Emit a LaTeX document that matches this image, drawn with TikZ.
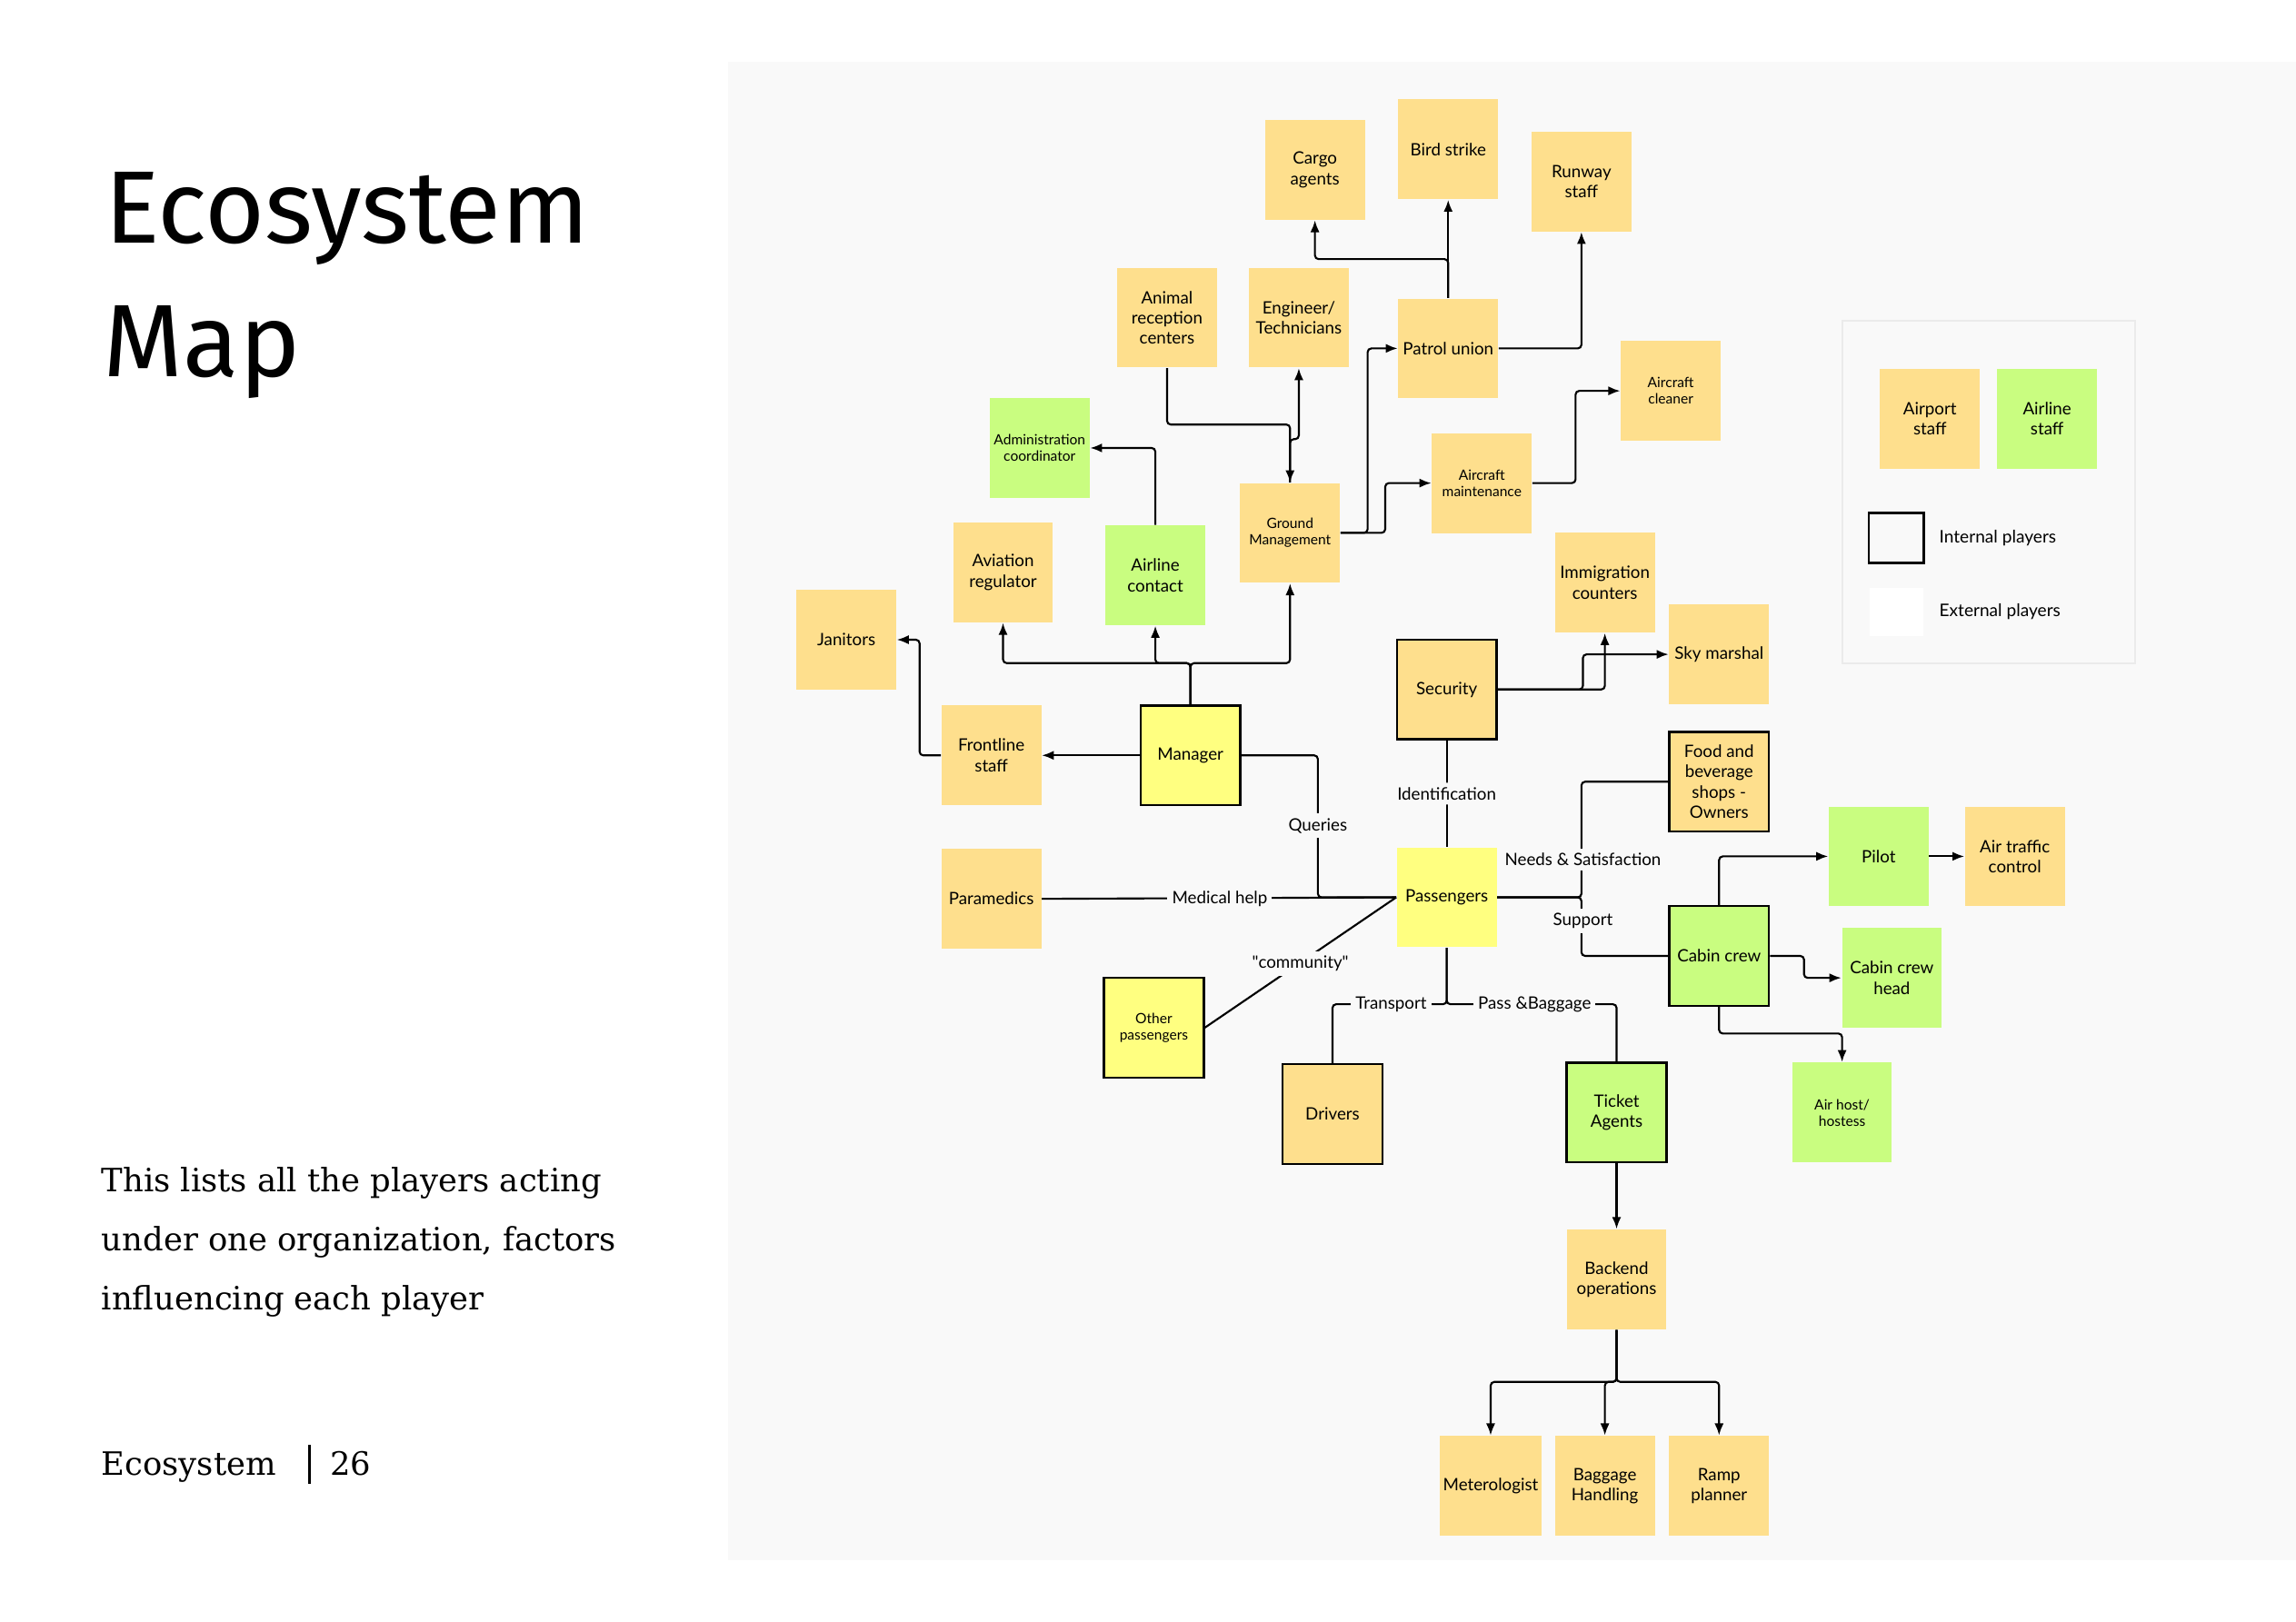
\documentclass[tikz,border=0pt]{standalone}
\usepackage{fontspec}
\setmainfont{Lato}
\newfontfamily\titlefont{Fira Sans}
\newfontfamily\bodyfont{DejaVu Serif}
\usetikzlibrary{arrows.meta,positioning}

\definecolor{airport}{HTML}{FEDF8D}
\definecolor{airline}{HTML}{C9FD80}
\definecolor{pax}{HTML}{FFFF80}
\definecolor{panel}{HTML}{F9F9F9}
\definecolor{keyline}{HTML}{EBEBEB}

\begin{document}
\begin{tikzpicture}[
  x=0.16mm, y=-0.16mm,
  note/.style={minimum width=10.9mm,minimum height=10.9mm,inner sep=0.4mm,align=center,
    font=\fontsize{5.3}{6.3}\selectfont},
  small/.style={font=\fontsize{4.4}{5.1}\selectfont},
  apt/.style={note,fill=airport},
  aln/.style={note,fill=airline},
  psg/.style={note,fill=pax},
  internal/.style={draw,line width=0.7pt},
  conn/.style={line width=0.6pt,rounded corners=0.4mm},
  arr/.style={conn,-{Latex[length=1.3mm,width=1mm]}},
  lbl/.style={fill=panel,inner sep=0.5mm,font=\fontsize{5.3}{6.3}\selectfont},
  keytext/.style={anchor=west,inner sep=0,font=\fontsize{5.4}{6.4}\selectfont}
]
\useasboundingbox (0,0) rectangle (1568,1108);
\fill[white] (0,0) rectangle (1568,1108);
\fill[panel] (497,42) rectangle (1568,1066);

% left column
\node[anchor=base west,inner sep=0,font=\titlefont\fontsize{32}{41}\selectfont] (title) at (71,166) {Ecosystem};
\node[anchor=base west,inner sep=0,font=\titlefont\fontsize{32}{41}\selectfont] (titlemap) at (70,257) {Map};
\node[anchor=base west,inner sep=0,font=\bodyfont\fontsize{10}{18.4}\selectfont] (blurb) at (69,814)
  {This lists all the players acting};
\node[anchor=base west,inner sep=0,font=\bodyfont\fontsize{10}{18.4}\selectfont] (blurbb) at (69,854.5)
  {under one organization, factors};
\node[anchor=base west,inner sep=0,font=\bodyfont\fontsize{10}{18.4}\selectfont] (blurbc) at (69,895)
  {influencing each player};
\node[anchor=base west,inner sep=0,font=\bodyfont\fontsize{10}{18.4}\selectfont] (footer) at (69,1008) {Ecosystem};
\node[anchor=base west,inner sep=0,font=\bodyfont\fontsize{10}{18.4}\selectfont] (pageno) at (225,1008) {26};
\draw[line width=0.7pt] (211.5,987) -- (211.5,1013.5);

% players
\node[apt] (cargo) at (898,116) {Cargo\\agents};
\node[apt] (bird) at (989,102) {Bird strike};
\node[apt] (runway) at (1080,124) {Runway\\staff};
\node[apt] (animal) at (797,217) {Animal\\reception\\centers};
\node[apt] (engineer) at (887,217) {Engineer/\\Technicians};
\node[apt] (patrol) at (989,238) {Patrol union};
\node[apt,small] (cleaner) at (1141,267) {Aircraft\\cleaner};
\node[aln,small] (admin) at (710,306) {Administration\\coordinator};
\node[apt,small] (maint) at (1012,330) {Aircraft\\maintenance};
\node[apt,small] (ground) at (881,364) {Ground\\Management};
\node[apt] (aviation) at (685,391) {Aviation\\regulator};
\node[aln] (contact) at (789,393) {Airline\\contact};
\node[apt] (immig) at (1096,398) {Immigration\\counters};
\node[apt] (janitors) at (578,437) {Janitors};
\node[apt] (sky) at (1174,447) {Sky marshal};
\node[apt,internal] (security) at (988,471) {Security};
\node[apt] (frontline) at (677,516) {Frontline\\staff};
\node[psg,internal] (manager) at (813,516) {Manager};
\node[apt,internal] (food) at (1174,534) {Food and\\beverage\\shops -\\Owners};
\node[aln] (pilot) at (1283,585) {Pilot};
\node[apt] (atc) at (1376,585) {Air traffic\\control};
\node[apt] (paramedics) at (677,614) {Paramedics};
\node[psg] (passengers) at (988,613) {Passengers};
\node[aln,internal] (cabin) at (1174,653) {Cabin crew};
\node[aln] (cabinhead) at (1292,668) {Cabin crew\\head};
\node[psg,internal,small] (others) at (788,702) {Other\\passengers};
\node[apt,internal] (drivers) at (910,761) {Drivers};
\node[aln,internal] (ticket) at (1104,760) {Ticket\\Agents};
\node[aln,small] (host) at (1258,760) {Air host/\\hostess};
\node[apt] (backend) at (1104,874) {Backend\\operations};
\node[apt] (meteo) at (1018,1015) {Meterologist};
\node[apt] (baggage) at (1096,1015) {Baggage\\Handling};
\node[apt] (ramp) at (1174,1015) {Ramp\\planner};

% upper links
\draw[arr] (patrol.north) -- (bird.south);
\draw[arr] (patrol.north) -- (patrol.north |- 0,177) -| (cargo.south);
\draw[arr] (patrol.east) -| (runway.south);
\draw[arr] (animal.south) -- (animal.south |- 0,290) -| (ground.north);
\draw[arr] (ground.north) -- (ground.north |- 0,300) -| (engineer.south);
\draw[arr] (ground.east) -- (ground.east -| 934,0) |- (patrol.west);
\draw[arr] (ground.east) -- (ground.east -| 946,0) |- (maint.west);
\draw[arr] (maint.east) -- (maint.east -| 1076,0) |- (cleaner.west);
\draw[arr] (contact.north) |- (admin.east);

% manager
\draw[arr] (manager.north) -- (manager.north |- 0,453) -| (aviation.south);
\draw[arr] (manager.north) -- (manager.north |- 0,453) -| (contact.south);
\draw[arr] (manager.north) -- (manager.north |- 0,453) -| (ground.south);
\draw[arr] (manager.west) -- (frontline.east);
\draw[arr] (frontline.west) -- (frontline.west -| 628,0) |- (janitors.east);

% passengers
\draw[conn] (manager.east) -| (passengers.west -| 900,0) -- (passengers.west);
\draw[conn] (paramedics.east) -- (passengers.west);
\draw[conn] (passengers.west) -- (others.east);
\draw[conn] (security.south) -- node[lbl] (ident) {Identification} (passengers.north);
\draw[conn] (passengers.east) -- (passengers.east -| 1080,0) |- (food.west);
\draw[conn] (passengers.east) -- (passengers.east -| 1080,0) |- (cabin.west);
\draw[conn] (passengers.south) -- (passengers.south |- 0,686) -| (drivers.north);
\draw[conn] (passengers.south) -- (passengers.south |- 0,686) -| (ticket.north);
\node[lbl] (queries) at (900,564) {Queries};
\node[lbl] (medical) at (833,614) {Medical help};
\node[lbl] (community) at (888,658) {\textquotedbl community\textquotedbl};
\node[lbl] (needs) at (1081,587) {Needs \& Satisfaction};
\node[lbl] (support) at (1081,629) {Support};
\node[lbl] (transport) at (950,686) {Transport};
\node[lbl] (passbag) at (1048,686) {Pass \&Baggage};

% security
\draw[arr] (security.east) -- (security.east -| 1081,0) |- (sky.west);
\draw[arr] (security.east) -| (immig.south);

% cabin crew
\draw[arr] (cabin.north) |- (pilot.west);
\draw[arr] (pilot.east) -- (atc.west);
\draw[arr] (cabin.east) -- (cabin.east -| 1232,0) |- (cabinhead.west);
\draw[arr] (cabin.south) -- (cabin.south |- 0,706) -| (host.north);

% back office
\draw[arr] (ticket.south) -- (backend.north);
\draw[arr] (backend.south) -- (backend.south |- 0,944) -| (meteo.north);
\draw[arr] (backend.south) -- (backend.south |- 0,944) -| (baggage.north);
\draw[arr] (backend.south) -- (backend.south |- 0,944) -| (ramp.north);

% legend
\node[draw=keyline,line width=0.6pt,minimum width=32mm,minimum height=37.4mm] (key) at (1358,336) {};
\node[apt] (keyairport) at (1318,286) {Airport\\staff};
\node[aln] (keyairline) at (1398,286) {Airline\\staff};
\node[draw,line width=0.7pt,minimum width=6mm,minimum height=5.5mm,inner sep=0] (keyinternal) at (1295,367.5) {};
\node[fill=white,minimum width=5.9mm,minimum height=5.3mm,inner sep=0] (keyexternal) at (1295,418) {};
\node[keytext] (keyintlabel) at (1324,367.5) {Internal players};
\node[keytext] (keyextlabel) at (1324,418) {External players};
\end{tikzpicture}
\end{document}
